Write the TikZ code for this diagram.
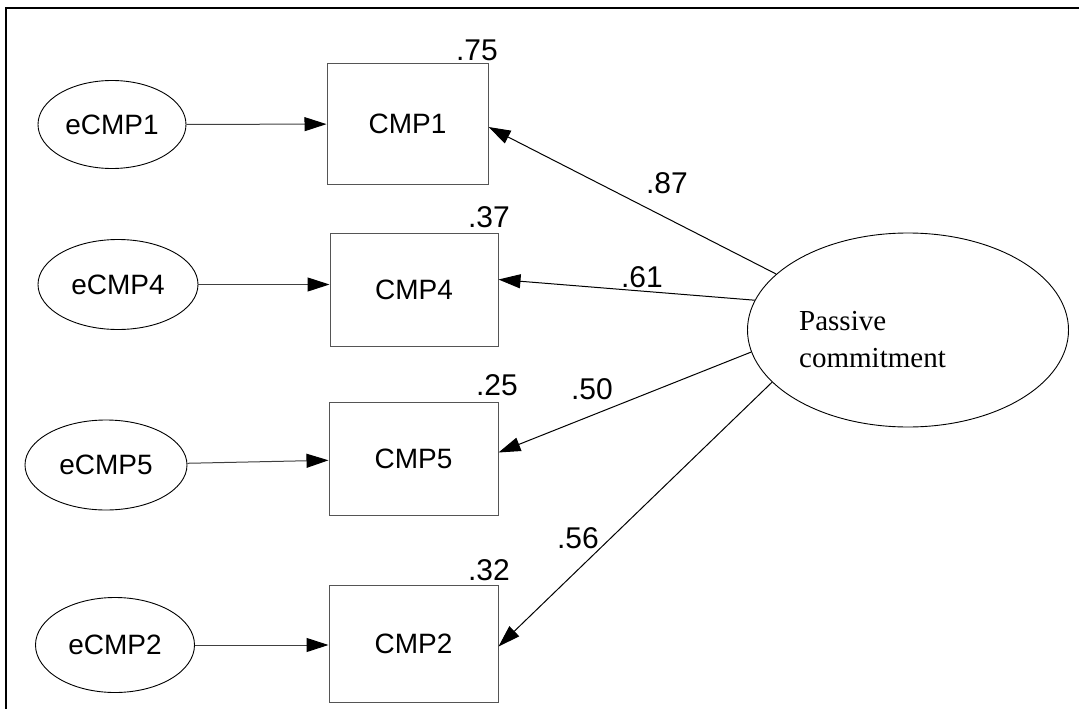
\documentclass[tikz,border=0pt]{standalone}
\usepackage{fontspec}
\setmainfont{Liberation Sans}
\newfontfamily\serifface{Liberation Serif}
\usetikzlibrary{arrows.meta,calc,shapes.geometric}

\definecolor{boxline}{HTML}{555555}
\definecolor{errline}{HTML}{404040}

\tikzset{
  observed/.style={draw=boxline, line width=1pt, rectangle, inner sep=0pt,
    font=\fontsize{28}{32}\selectfont},
  errvar/.style={draw=black, line width=0.9pt, ellipse, inner sep=0pt,
    font=\fontsize{28}{32}\selectfont},
  latentvar/.style={draw=black, line width=0.9pt, ellipse, inner sep=0pt},
  coef/.style={inner sep=0pt, anchor=base, font=\fontsize{30}{34}\selectfont},
  path/.style={line width=1pt, -{Triangle[length=22pt,width=14pt,color=black]}},
  errpath/.style={path, draw=errline},
}

\begin{document}
\begin{tikzpicture}[x=1pt,y=-1pt]
\useasboundingbox (0,0) rectangle (1079,709);

% frame
\draw[line width=1.3pt] (6,709) -- (6,8) -- (1079,8);

% observed indicators
\node[observed, minimum width=161, minimum height=121] (CMP1) at (407.5,124) {CMP1};
\node[observed, minimum width=168, minimum height=113] (CMP4) at (414,289.5) {CMP4};
\node[observed, minimum width=169, minimum height=113] (CMP5) at (413.5,458.5) {CMP5};
\node[observed, minimum width=169, minimum height=117] (CMP2) at (413.5,643.5) {CMP2};

% error terms
\node[errvar, minimum width=148, minimum height=88] (e1) at (112,124.5) {eCMP1};
\node[errvar, minimum width=160, minimum height=90] (e4) at (118,284.5) {eCMP4};
\node[errvar, minimum width=162, minimum height=90] (e5) at (106,465) {eCMP5};
\node[errvar, minimum width=159, minimum height=95] (e2) at (115,645) {eCMP2};

% latent factor
\node[latentvar, minimum width=321, minimum height=194] (PC) at (908,330) {};
\node[inner sep=0pt, anchor=base west, align=left, font=\serifface\fontsize{29}{37}\selectfont]
  (PCtext) at (799,367) {Passive\\commitment};

% error paths
\draw[errpath] (e1) -- (CMP1);
\draw[errpath] (e4.east) -- (e4.east -| CMP4.west);
\draw[errpath] (e5) -- (CMP5);
\draw[errpath] (e2.east) -- (e2.east -| CMP2.west);

% factor loadings
\draw[path] (PC.157.5) -- ($(CMP1.east)+(0,3)$);
\draw[path] (PC.169.3) -- ($(CMP4.east)+(0,-10)$);
\draw[path] (PC.188.7) -- ($(CMP5.east)+(0,-6)$);
\draw[path] (PC.201.7) -- ($(CMP2.east)+(0,3)$);

% loading estimates
\node[coef] (l1) at (667,193) {.87};
\node[coef] (l4) at (642,287) {.61};
\node[coef] (l5) at (592,399) {.50};
\node[coef] (l2) at (578,548) {.56};

% squared multiple correlations
\node[coef] (r1) at (477,60) {.75};
\node[coef] (r4) at (489,227) {.37};
\node[coef] (r5) at (497,395) {.25};
\node[coef] (r2) at (489,580) {.32};
\end{tikzpicture}
\end{document}
